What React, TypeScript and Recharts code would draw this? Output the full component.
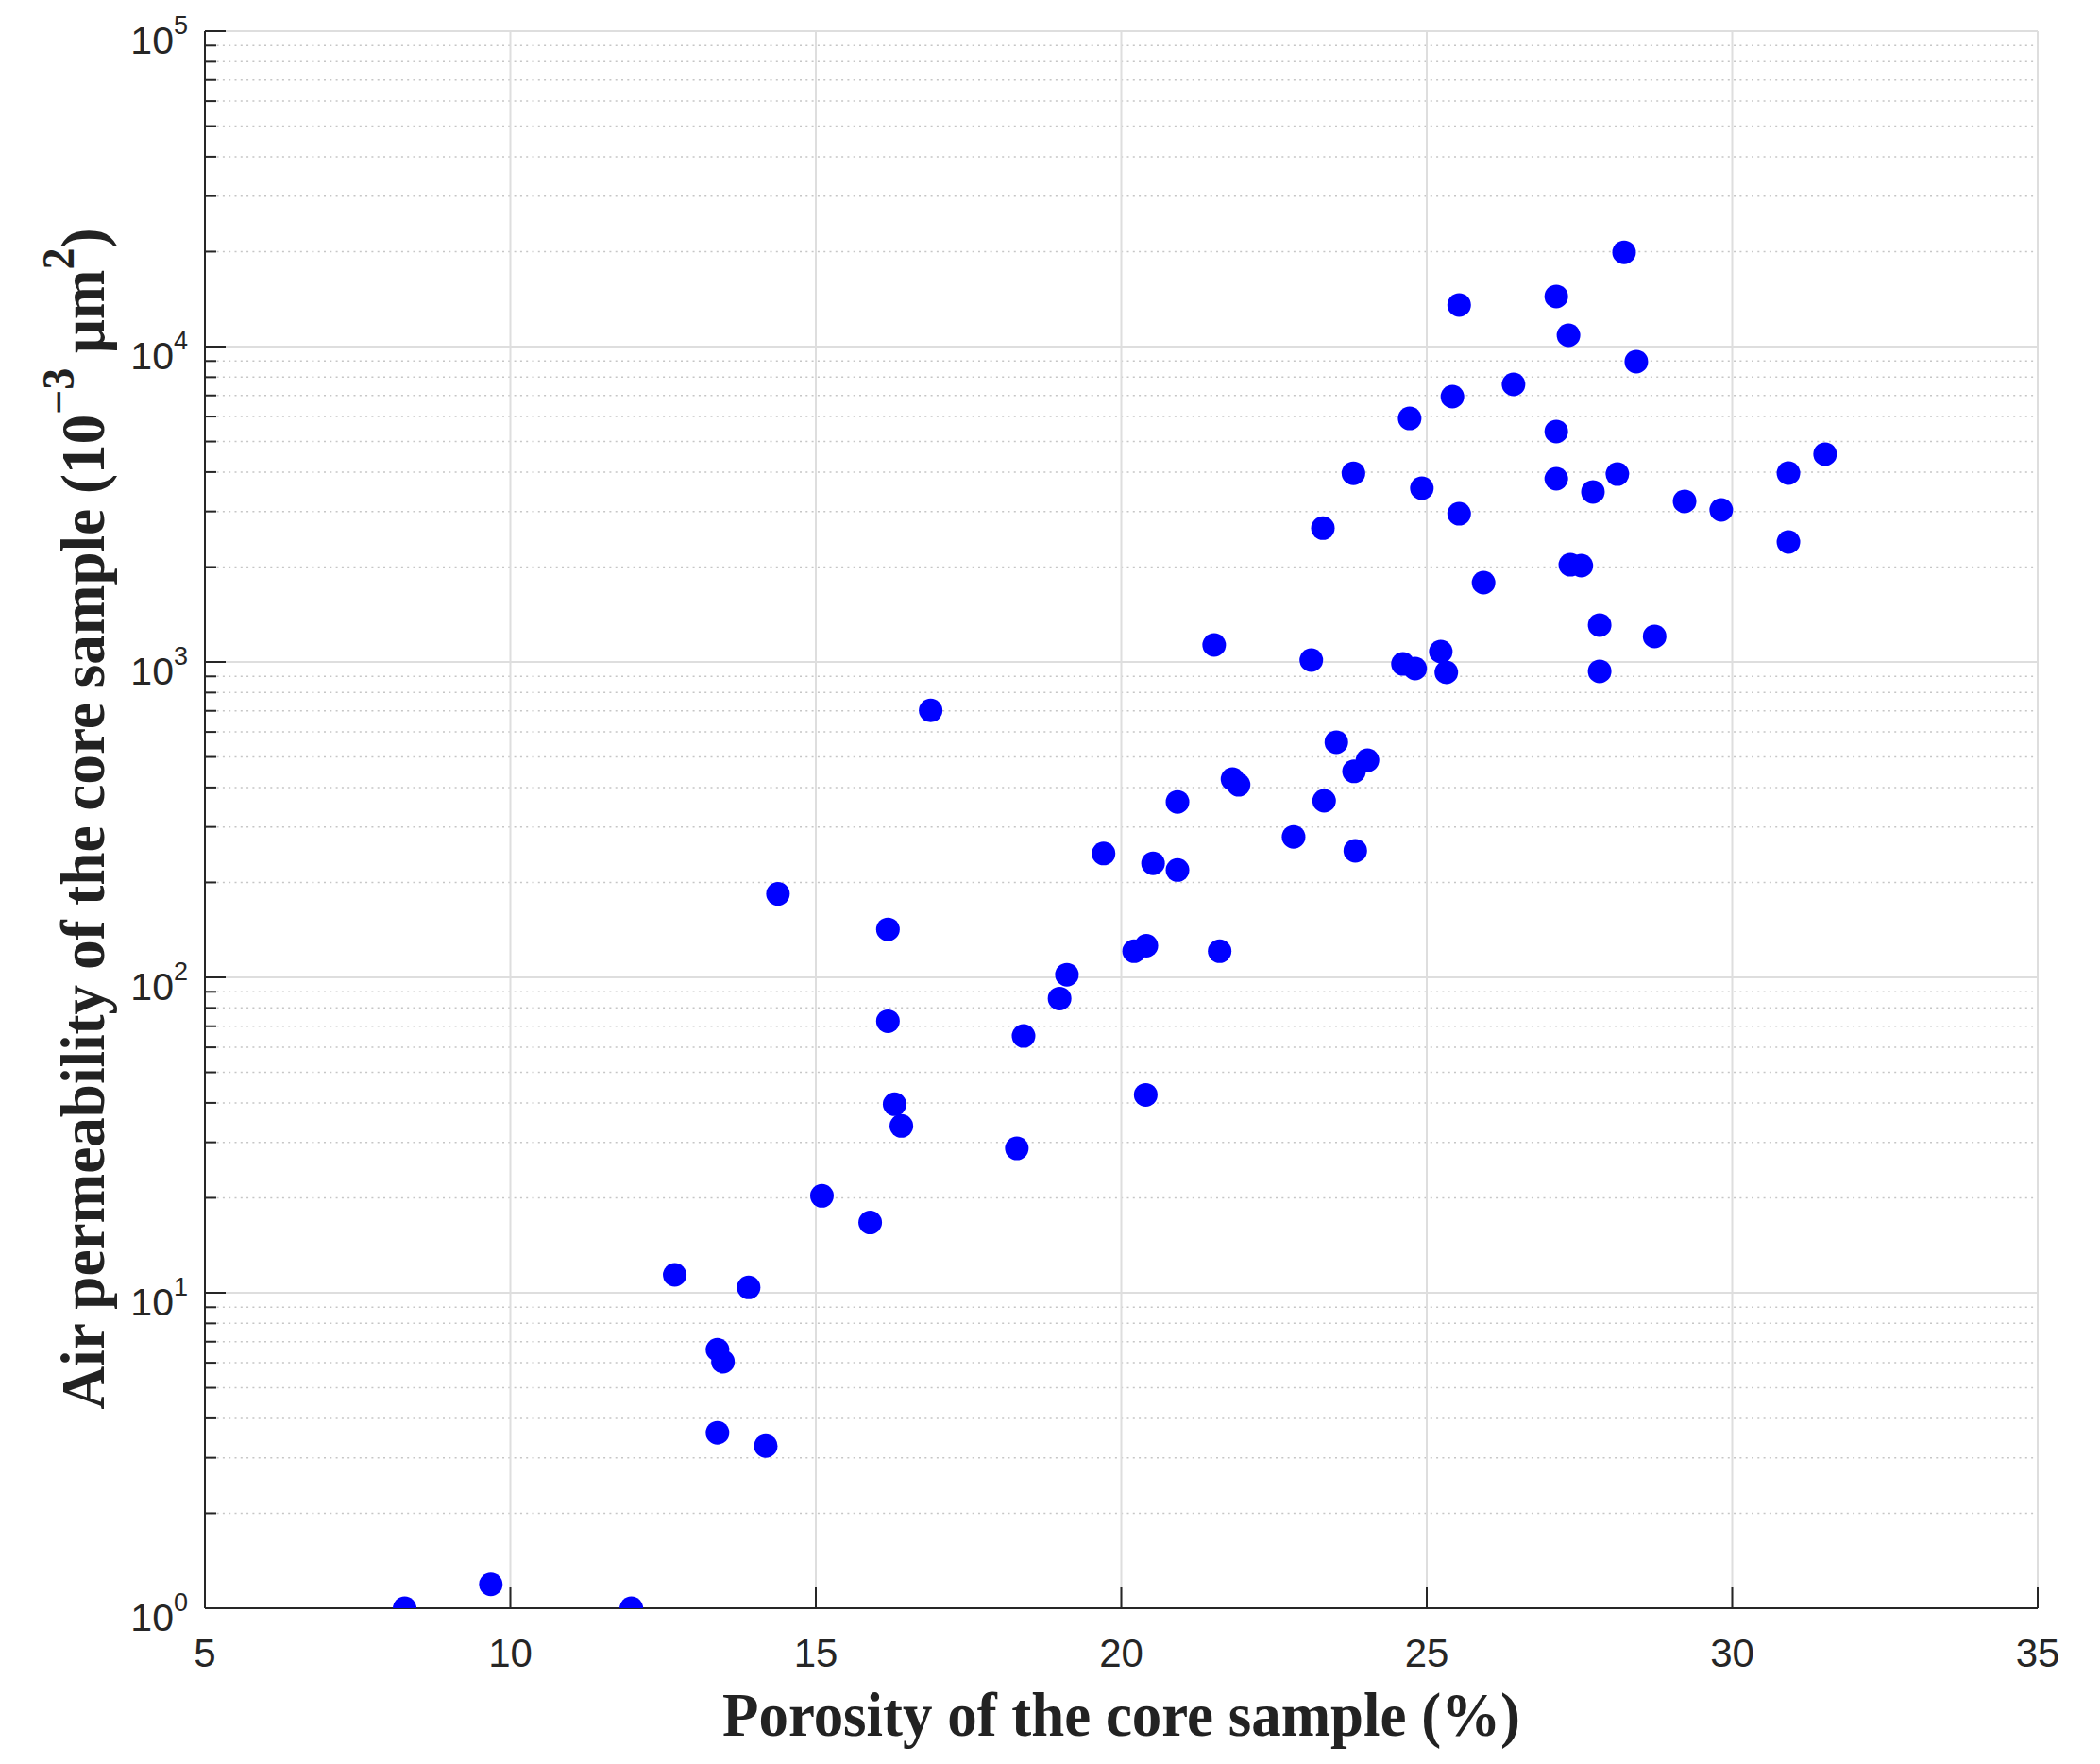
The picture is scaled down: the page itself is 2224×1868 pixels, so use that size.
import { ScatterChart, Scatter, XAxis, YAxis, ReferenceLine, Label } from 'recharts'

// porosity (%) and air permeability (10^-3 μm^2)
const POROSITY = [
  8.27, 9.68, 11.98, 12.69, 13.39, 13.48, 13.39, 13.9, 14.18, 14.38,
  15.1, 15.89, 16.18, 16.18, 16.29, 16.4, 16.88, 18.29, 18.4, 18.99,
  19.11, 19.71, 20.21, 20.41, 20.4, 20.52, 20.92, 20.92, 21.52, 21.61,
  21.82, 21.92, 22.82, 23.11, 23.3, 23.32, 23.52, 23.8, 23.81, 23.83,
  24.03, 24.61, 24.72, 24.81, 24.92, 25.23, 25.32, 25.42, 25.53, 25.53,
  25.93, 26.42, 27.12, 27.12, 27.12, 27.32, 27.35, 27.53, 27.72, 27.83,
  27.83, 28.12, 28.23, 28.43, 28.73, 29.22, 29.82, 30.92, 30.92, 31.52,
]
const PERMEABILITY = [
  1.0, 1.19, 1.0, 11.4, 6.6, 6.05, 3.6, 10.4, 3.27, 184,
  20.3, 16.7, 142, 72.6, 39.6, 33.8, 702, 28.7, 65.2, 85.7,
  102, 247, 121, 126, 42.4, 230, 360, 219, 1132, 121,
  425, 408, 279, 1014, 2655, 363, 557, 3965, 450, 252,
  488, 986, 5920, 953, 3556, 1079, 927, 6940, 13550, 2950,
  1784, 7590, 14420, 5380, 3810, 10860, 2033, 2020, 3460, 1309,
  934, 3940, 19900, 8960, 1205, 3230, 3034, 3970, 2400, 4560,
]

const X_TICKS = [5, 10, 15, 20, 25, 30, 35]
const Y_MAJOR = [1, 10, 100, 1000, 10000, 100000]
const Y_MINOR = [
  2, 3, 4, 5, 6, 7, 8, 9,
  20, 30, 40, 50, 60, 70, 80, 90,
  200, 300, 400, 500, 600, 700, 800, 900,
  2000, 3000, 4000, 5000, 6000, 7000, 8000, 9000,
  20000, 30000, 40000, 50000, 60000, 70000, 80000, 90000,
]
const Y_EXP = ['0', '1', '2', '3', '4', '5']

const AXIS = '#262626'
const GRID = '#dedede'
const MINOR_GRID = '#c6c6c6'
const SANS = '"Liberation Sans", Arial, Helvetica, sans-serif'
const SERIF = '"Liberation Serif", "Times New Roman", serif'

const data = POROSITY.map((x, i) => ({ x, y: PERMEABILITY[i] }))

function XTick(props: any) {
  const { x, y, payload } = props
  return (
    <g>
      <line x1={x} x2={x} y1={y} y2={y - 22} stroke={AXIS} strokeWidth={2} />
      <text x={x} y={y + 62} textAnchor="middle" fontFamily={SANS} fontSize={42} fill={AXIS}>
        {payload.value}
      </text>
    </g>
  )
}

function YTick(props: any) {
  const { x, y, payload } = props
  const idx = Y_MAJOR.indexOf(payload.value)
  const major = idx >= 0
  return (
    <g>
      <line x1={x} x2={x + (major ? 22 : 12)} y1={y} y2={y} stroke={AXIS} strokeWidth={2} />
      {major && (
        <text x={x - 18} y={y + 24} textAnchor="end" fontFamily={SANS} fontSize={41} fill={AXIS}>
          10<tspan dy={-21} fontSize={27}>{Y_EXP[idx]}</tspan>
        </text>
      )}
    </g>
  )
}

function Dot(props: any) {
  return <circle cx={props.cx} cy={props.cy} r={12.5} fill="#0000ff" />
}

export default function App() {
  return (
    <div style={{ position: 'absolute', left: 0, top: 0, background: '#fff' }}>
      <ScatterChart width={2224} height={1868} margin={{ top: 33, right: 66, bottom: 105, left: 97 }}>
        {Y_MINOR.map((v) => (
          <ReferenceLine key={'m' + v} y={v} stroke={MINOR_GRID} strokeWidth={1.5} strokeDasharray="2 4.3" zIndex={-100} />
        ))}
        {Y_MAJOR.slice(1).map((v) => (
          <ReferenceLine key={'y' + v} y={v} stroke={GRID} strokeWidth={2} zIndex={-100} />
        ))}
        {X_TICKS.slice(1).map((v) => (
          <ReferenceLine key={'x' + v} x={v} stroke={GRID} strokeWidth={2} zIndex={-100} />
        ))}
        <XAxis
          type="number"
          dataKey="x"
          domain={[5, 35]}
          ticks={X_TICKS}
          interval={0}
          tickSize={0}
          tickMargin={0}
          tickLine={false}
          tick={XTick}
          axisLine={{ stroke: AXIS, strokeWidth: 2 }}
          height={60}
        >
          <Label
            content={(p: any) => {
              const vb = p.viewBox
              return (
                <text
                  x={vb.x + vb.width / 2}
                  y={vb.y + 135}
                  textAnchor="middle"
                  fontFamily={SERIF}
                  fontWeight="bold"
                  fontSize={66}
                  fill="#222"
                  textLength={845}
                  lengthAdjust="spacingAndGlyphs"
                >
                  Porosity of the core sample (%)
                </text>
              )
            }}
          />
        </XAxis>
        <YAxis
          type="number"
          dataKey="y"
          scale="log"
          domain={[1, 100000]}
          allowDataOverflow
          ticks={[...Y_MAJOR, ...Y_MINOR]}
          interval={0}
          tickSize={0}
          tickMargin={0}
          tickLine={false}
          tick={YTick}
          axisLine={{ stroke: AXIS, strokeWidth: 2 }}
          width={120}
        >
          <Label
            content={(p: any) => {
              const vb = p.viewBox
              const cx = vb.x + 13
              const cy = vb.y + vb.height / 2 - 1
              return (
                <text
                  x={cx}
                  y={cy}
                  transform={`rotate(-90, ${cx}, ${cy})`}
                  textAnchor="middle"
                  fontFamily={SERIF}
                  fontWeight="bold"
                  fontSize={66}
                  fill="#222"
                  textLength={1251}
                  lengthAdjust="spacingAndGlyphs"
                >
                  Air permeability of the core sample (10
                  <tspan dy={-32} fontSize={48}>−3</tspan>
                  <tspan dy={32}>{'  μm'}</tspan>
                  <tspan dy={-32} fontSize={48}>2</tspan>
                  <tspan dy={32}>)</tspan>
                </text>
              )
            }}
          />
        </YAxis>
        <Scatter data={data} shape={Dot} isAnimationActive={false} />
      </ScatterChart>
    </div>
  )
}
